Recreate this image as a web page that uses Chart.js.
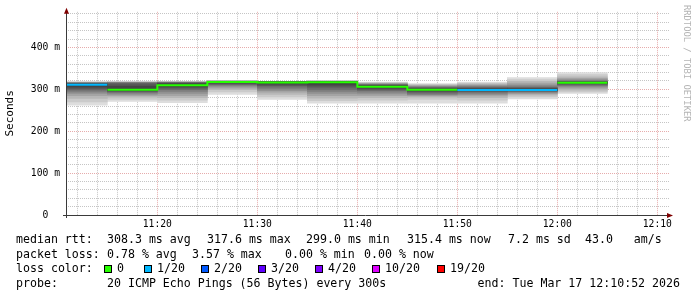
<!DOCTYPE html>
<html>
<head>
<meta charset="utf-8">
<title>smokeping</title>
<script src="https://cdn.jsdelivr.net/npm/chart.js@4.4.1/dist/chart.umd.min.js"></script>
<style>
  html, body { margin: 0; padding: 0; background: #fff; }
  #wrap { width: 697px; height: 297px; }
</style>
</head>
<body>
<div id="wrap"><canvas id="smokeChart" width="697" height="297"></canvas></div>
<script>
// graph window
const startTime = '11:10:52';
const endTime = '12:10:52';

// 5 minute steps, each value is for the 5 minutes ending at that time
const stepTimes = ['11:15', '11:20', '11:25', '11:30', '11:35', '11:40', '11:45', '11:50', '11:55', '12:00', '12:05'];
const medianRtt = [310.7, 299.0, 310.0, 317.6, 316.0, 317.0, 306.0, 299.0, 298.5, 298.5, 315.4];   // ms
const lostPings = [1, 0, 0, 0, 0, 0, 0, 0, 1, 1, 0];   // of 20

// the 20 pings of each step, sorted (ms) -> smoke
const sortedPings = [
    [262, 270, 278, 285, 290, 294, 298, 301, 305, 309, 312, 313, 314, 315, 315, 316, 316, 317, 317, 318],
    [271, 276, 281, 285, 288, 291, 293, 295, 297, 298, 300, 308, 313, 315, 316, 316, 317, 317, 317, 318],
    [268, 274, 280, 285, 290, 295, 299, 303, 306, 309, 311, 314, 315, 316, 316, 317, 317, 317, 318, 318],
    [288, 294, 299, 303, 306, 309, 311, 313, 315, 317, 318, 318, 319, 319, 319, 319, 320, 320, 320, 320],
    [276, 282, 288, 293, 297, 301, 305, 309, 312, 315, 317, 317, 318, 318, 318, 318, 319, 319, 319, 319],
    [267, 273, 279, 285, 290, 295, 300, 305, 310, 315, 318, 318, 318, 319, 319, 319, 319, 320, 320, 320],
    [267, 274, 280, 285, 289, 293, 297, 300, 303, 305, 307, 309, 310, 311, 312, 313, 314, 315, 316, 317],
    [267, 276, 281, 284, 286, 288, 291, 294, 296, 298, 299, 301, 303, 305, 306, 307, 309, 310, 312, 314],
    [267, 274, 280, 284, 287, 290, 293, 295, 297, 298, 299, 301, 303, 305, 307, 309, 311, 313, 315, 317],
    [277, 282, 286, 289, 291, 293, 295, 296, 297, 298, 299, 301, 303, 305, 308, 311, 315, 319, 323, 328],
    [290, 294, 298, 302, 305, 308, 310, 312, 314, 315, 316, 317, 318, 319, 321, 323, 326, 330, 335, 340]
];

// loss colour legend
const lossLevels = [0, 1, 2, 3, 4, 10, 19];
const lossLabels = ['0', '1/20', '2/20', '3/20', '4/20', '10/20', '19/20'];
const lossColors = ['#26ff00', '#00b8ff', '#0059ff', '#5e00ff', '#7e00ff', '#dd00ff', '#ff0000'];

// y axis (ms), labelled every 100
const yMax = 485;
const yLabelStep = 100;

// legend text
const rttLine = ['median rtt:', '308.3 ms avg', '317.6 ms max', '299.0 ms min', '315.4 ms now', '7.2 ms sd', '43.0   am/s'];
const lossLine = ['packet loss:', '0.78 % avg', '3.57 % max', '0.00 % min', '0.00 % now'];
const probeText = ['probe:', '20 ICMP Echo Pings (56 Bytes) every 300s', 'end: Tue Mar 17 12:10:52 2026'];

const MONO = '"DejaVu Sans Mono", "Liberation Mono", monospace';

// minutes after 11:00
function toMin(s) {
    const p = s.split(':').map(Number);
    return (p[0] - 11) * 60 + p[1] + (p[2] || 0) / 60;
}
function fmtTime(v) {
    const h = 11 + Math.floor(v / 60), m = v - Math.floor(v / 60) * 60;
    return String(h).padStart(2, '0') + ':' + String(m).padStart(2, '0');
}
function lossColor(n) {
    let c = lossColors[0];
    lossLevels.forEach((lv, i) => { if (n >= lv) c = lossColors[i]; });
    return c;
}

const STEP = 5;
const datasets = [];

// smoke: 10 bands, outer light -> inner dark (smokeping smokecol)
const half = sortedPings[0].length / 2;
for (let k = 0; k < half; k++) {
    const g = Math.floor(190 / half * (half - (k + 1))) + 50;
    const hex = '#' + g.toString(16).padStart(2, '0').repeat(3);
    datasets.push({
        type: 'bar',
        data: stepTimes.map((t, i) => ({ x: toMin(t) - STEP / 2, y: [sortedPings[i][k], sortedPings[i][sortedPings[i].length - 1 - k]] })),
        backgroundColor: hex,
        borderWidth: 0,
        grouped: false,
        barPercentage: 1,
        categoryPercentage: 1,
        order: 20 - k
    });
}

// median line, one flat piece per step
const medianPts = [];
stepTimes.forEach((t, i) => {
    medianPts.push({ x: toMin(t) - STEP, y: medianRtt[i] });
    medianPts.push({ x: toMin(t), y: medianRtt[i] });
});
datasets.push({
    type: 'line',
    data: medianPts,
    borderWidth: 2,
    pointRadius: 0,
    tension: 0,
    order: 0,
    borderColor: lossColor(lostPings[0]),
    segment: {
        borderColor: ctx => {
            const i0 = ctx.p0DataIndex;
            const a = Math.floor(i0 / 2);
            if (i0 % 2 === 0) return lossColor(lostPings[a]);
            const ca = lossColor(lostPings[a]), cb = lossColor(lostPings[a + 1]);
            return ca === cb ? ca : 'rgba(0,0,0,0)';
        }
    }
});

const minorGrid = 'rgba(140,140,140,0.5)';
const majorGrid = 'rgba(200,70,70,0.45)';

const rrdDecor = {
    id: 'rrdDecor',
    afterDraw(chart) {
        const { ctx, chartArea: a } = chart;
        ctx.save();
        // axes
        ctx.strokeStyle = '#3a3a3a';
        ctx.lineWidth = 1;
        ctx.beginPath();
        ctx.moveTo(a.left - 3, a.bottom + 0.5);
        ctx.lineTo(a.right - 1, a.bottom + 0.5);
        ctx.moveTo(a.left + 0.5, a.top);
        ctx.lineTo(a.left + 0.5, a.bottom + 3);
        ctx.stroke();
        // arrows
        ctx.fillStyle = '#7f0000';
        ctx.beginPath();
        ctx.moveTo(a.left + 0.5, a.top - 4);
        ctx.lineTo(a.left - 2, a.top + 2);
        ctx.lineTo(a.left + 3, a.top + 2);
        ctx.closePath();
        ctx.fill();
        ctx.beginPath();
        ctx.moveTo(a.right + 4, a.bottom + 0.5);
        ctx.lineTo(a.right - 2, a.bottom - 2);
        ctx.lineTo(a.right - 2, a.bottom + 3);
        ctx.closePath();
        ctx.fill();

        // legend
        ctx.font = '11.6px ' + MONO;
        ctx.fillStyle = '#000';
        ctx.textBaseline = 'middle';
        ctx.textAlign = 'left';
        const rttX = [16, 107, 207, 306, 407, 508, 585];
        rttLine.forEach((s, i) => ctx.fillText(s, rttX[i], 240));
        const lossX = [16, 107, 192, 285, 364];
        lossLine.forEach((s, i) => ctx.fillText(s, lossX[i], 255));
        ctx.fillText('loss color:', 16, 269);
        const boxX = [104, 144, 201, 258, 315, 372, 437];
        lossLabels.forEach((s, i) => {
            ctx.fillStyle = lossColors[i];
            ctx.fillRect(boxX[i], 265, 8, 8);
            ctx.strokeStyle = '#000';
            ctx.strokeRect(boxX[i] + 0.5, 265.5, 7, 7);
            ctx.fillStyle = '#000';
            ctx.fillText(s, boxX[i] + 13, 269);
        });
        ctx.fillText(probeText[0], 16, 283.5);
        ctx.fillText(probeText[1], 107, 283.5);
        ctx.textAlign = 'right';
        ctx.fillText(probeText[2], 680, 283.5);

        // watermark
        ctx.translate(686, 5);
        ctx.rotate(Math.PI / 2);
        ctx.textAlign = 'left';
        ctx.font = '8.8px ' + MONO;
        ctx.fillStyle = '#b4b4b4';
        ctx.fillText('RRDTOOL / TOBI OETIKER', 0, 0);
        ctx.restore();
    }
};

const xMin = toMin(startTime);
const xMax = toMin(endTime) + 0.3;

new Chart(document.getElementById('smokeChart'), {
    type: 'bar',
    data: { datasets: datasets },
    options: {
        responsive: false,
        animation: false,
        events: [],
        layout: { padding: { left: 0, top: 11, right: 28, bottom: 62 } },
        plugins: { legend: { display: false }, tooltip: { enabled: false } },
        scales: {
            // labelled time axis, bars sit on this one
            x: {
                type: 'linear',
                min: xMin,
                max: xMax,
                offset: false,
                grid: { display: false, offset: false, drawTicks: false },
                border: { display: false },
                ticks: {
                    stepSize: 10,
                    includeBounds: false,
                    autoSkip: false,
                    maxRotation: 0,
                    padding: 4,
                    color: '#000',
                    font: { family: MONO, size: 9.7 },
                    callback: v => fmtTime(Math.round(v))
                },
                afterFit: s => { s.height = 20; }
            },
            // 2 minute grid only
            xGrid: {
                type: 'linear',
                position: 'bottom',
                min: xMin,
                max: xMax,
                offset: false,
                z: 1,
                grid: {
                    offset: false,
                    drawTicks: false,
                    color: c => Math.round(c.tick.value) % 10 === 0 ? majorGrid : minorGrid
                },
                border: { display: false, dash: [1, 1] },
                ticks: { display: false, stepSize: 2, includeBounds: false, autoSkip: false },
                afterFit: s => { s.height = 0; }
            },
            y: {
                type: 'linear',
                min: 0,
                max: yMax,
                z: 1,
                grid: {
                    drawTicks: false,
                    color: c => Math.round(c.tick.value) % yLabelStep === 0 ? majorGrid : minorGrid
                },
                border: { display: false, dash: [1, 1] },
                ticks: {
                    stepSize: 20,
                    includeBounds: false,
                    autoSkip: false,
                    padding: 6,
                    color: '#000',
                    font: { family: MONO, size: 9.7 },
                    callback: v => v % yLabelStep !== 0 ? '' : (v === 0 ? '0  ' : v + ' m')
                },
                title: { display: true, text: 'Seconds', color: '#000', font: { family: MONO, size: 11 } },
                afterFit: s => { s.width = 66; }
            }
        }
    },
    plugins: [rrdDecor]
});
</script>
</body>
</html>
